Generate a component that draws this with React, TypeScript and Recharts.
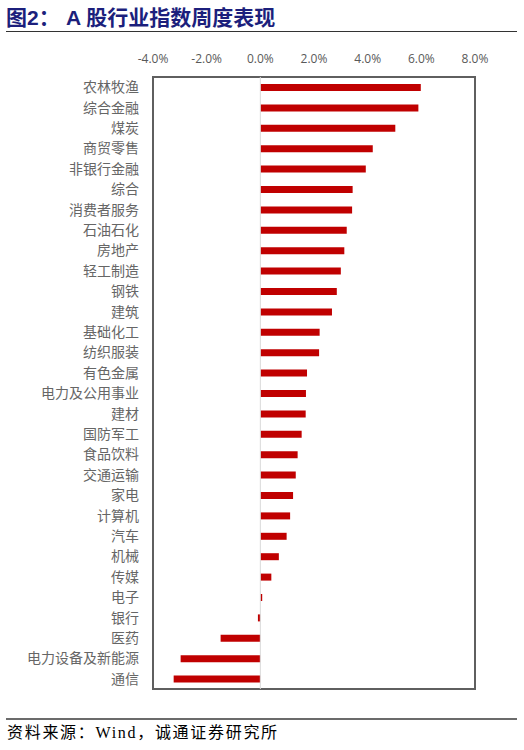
import React from 'react';
import { BarChart, Bar, XAxis, YAxis, ReferenceLine, ReferenceArea } from 'recharts';

const industries = [
  '农林牧渔', '综合金融', '煤炭', '商贸零售', '非银行金融', '综合', '消费者服务', '石油石化',
  '房地产', '轻工制造', '钢铁', '建筑', '基础化工', '纺织服装', '有色金属', '电力及公用事业',
  '建材', '国防军工', '食品饮料', '交通运输', '家电', '计算机', '汽车', '机械', '传媒',
  '电子', '银行', '医药', '电力设备及新能源', '通信',
];

// weekly change, %
const weeklyChange = [
  5.98, 5.89, 5.03, 4.19, 3.93, 3.44, 3.42, 3.22,
  3.13, 3.0, 2.85, 2.67, 2.21, 2.19, 1.74, 1.7,
  1.69, 1.54, 1.39, 1.32, 1.22, 1.11, 0.98, 0.69, 0.41,
  0.07, -0.09, -1.48, -2.97, -3.23,
];

const xTicks = [-4, -2, 0, 2, 4, 6, 8];

const data = industries.map((name, i) => ({ name, value: weeklyChange[i] }));

const CJK = '"Noto Sans CJK SC", "Noto Sans", sans-serif';
const titleFont = `Arial, "Liberation Sans", ${CJK}`;

export default function App() {
  return (
    <div style={{ position: 'absolute', left: 0, top: 0, width: 524, height: 750, background: '#fff' }}>
      <div
        style={{
          position: 'absolute', left: 6, top: 1, fontSize: 21, fontWeight: 'bold',
          color: '#1c1f7c', fontFamily: titleFont, whiteSpace: 'pre',
        }}
      >
        图2：
      </div>
      <div
        style={{
          position: 'absolute', left: 66, top: 1, fontSize: 21, fontWeight: 'bold',
          color: '#1c1f7c', fontFamily: titleFont, whiteSpace: 'pre',
        }}
      >
        A 股行业指数周度表现
      </div>
      <div style={{ position: 'absolute', left: 6, top: 31, width: 511, height: 1, background: '#333' }} />

      <BarChart
        width={524}
        height={750}
        data={data}
        layout="vertical"
        margin={{ top: 57, right: 49, bottom: 61, left: 0 }}
        barCategoryGap={0}
      >
        <XAxis
          type="number"
          orientation="top"
          domain={[-4, 8]}
          ticks={xTicks}
          height={20}
          tickSize={0}
          tickMargin={14}
          axisLine={false}
          tickLine={false}
          tickFormatter={(v: number) => `${v.toFixed(1)}%`}
          tick={{ fontSize: 12, fill: '#595959', fontFamily: '"Open Sans", "DejaVu Sans", sans-serif' }}
        />
        <YAxis
          type="category"
          dataKey="name"
          width={153}
          tickSize={0}
          tickMargin={14}
          axisLine={false}
          tickLine={false}
          interval={0}
          tick={{ fontSize: 14, fill: '#666666', fontFamily: CJK }}
        />
        <ReferenceArea x1={-4} x2={8} fill="none" stroke="#5f5f5f" strokeWidth={2} ifOverflow="visible" />
        <ReferenceLine x={0} stroke="#d9d9d9" strokeWidth={1} />
        <Bar dataKey="value" fill="#c00000" barSize={7} isAnimationActive={false} />
      </BarChart>

      <div style={{ position: 'absolute', left: 6, top: 718, width: 511, height: 2, background: '#6b6b6b' }} />
      <div
        style={{
          position: 'absolute', left: 7, top: 719, fontSize: 16, color: '#000', letterSpacing: 1.7,
          fontFamily: `"Liberation Serif", ${CJK}`, whiteSpace: 'pre',
        }}
      >
        资料来源：Wind，诚通证券研究所
      </div>
    </div>
  );
}
